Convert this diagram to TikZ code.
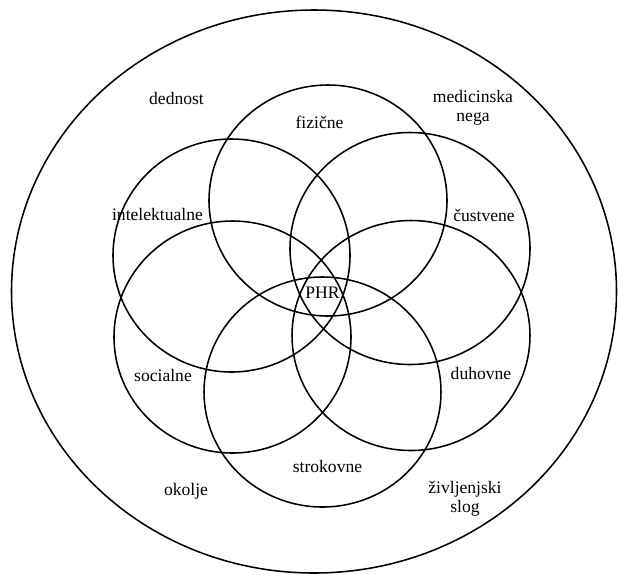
\documentclass[tikz,border=0pt]{standalone}
\usepackage{fontspec}
\setmainfont{Liberation Serif}
\begin{document}
\begin{tikzpicture}[x=0.025cm, y=-0.025cm, ring/.style={draw, line width=1.1pt}, lbl/.style={font=\fontsize{12.5}{13.5}\selectfont, align=center, inner sep=1pt}]
\useasboundingbox (0,0) rectangle (618,574);
\draw[ring] (314,291.5) ellipse [x radius=302.5, y radius=281.5];
\draw[ring] (328,200.5) ellipse [x radius=119, y radius=115.5];
\draw[ring] (231.5,255.5) ellipse [x radius=118.5, y radius=116.5];
\draw[ring] (410,248.5) ellipse [x radius=120, y radius=116];
\draw[ring] (232.5,337) ellipse [x radius=118.5, y radius=116];
\draw[ring] (411,335.5) ellipse [x radius=119, y radius=115];
\draw[ring] (322.5,392) ellipse [x radius=118.5, y radius=115];
\node[lbl] (dednost) at (176.5,98) {dednost};
\node[lbl] (fizicne) at (319.5,122) {fizične};
\node[lbl] (medicina) at (473,108) {medicinska\\nega};
\node[lbl] (intel) at (157.5,214) {intelektualne};
\node[lbl] (custvene) at (484,215) {čustvene};
\node[lbl] (phr) at (322.5,292.5) {PHR};
\node[lbl] (social) at (163,375) {socialne};
\node[lbl] (duhovne) at (481,373) {duhovne};
\node[lbl] (strok) at (327.5,466) {strokovne};
\node[lbl] (okolje) at (186,491) {okolje};
\node[lbl] (zivljenje) at (465,499) {življenjski\\slog};
\end{tikzpicture}
\end{document}
